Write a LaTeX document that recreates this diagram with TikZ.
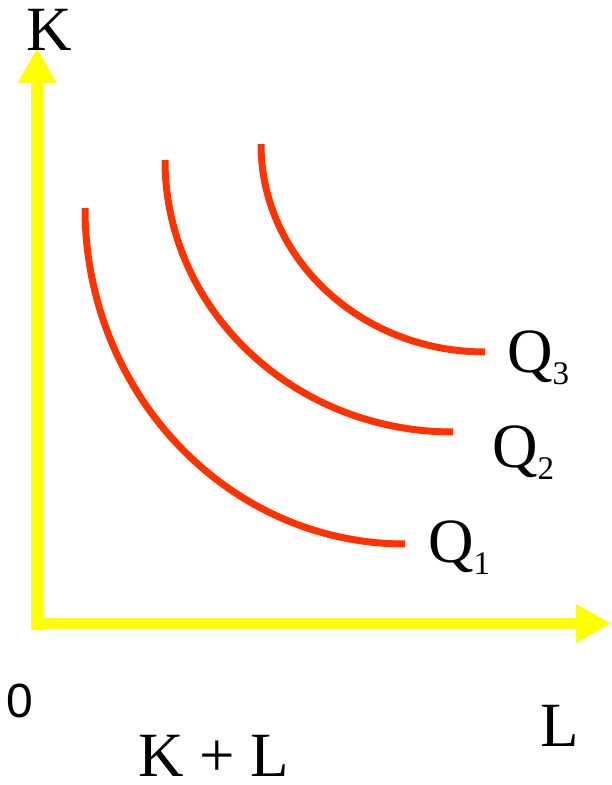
\documentclass[tikz,border=0pt]{standalone}
\usepackage{fontspec}
\setmainfont{Liberation Serif}
\newfontfamily\zerofont{Liberation Sans}
\usetikzlibrary{arrows.meta}
\definecolor{axisyellow}{RGB}{255,255,0}
\definecolor{curvered}{RGB}{255,51,0}
\newcommand{\subnum}[1]{\raisebox{-12pt}{\fontsize{33}{35}\selectfont #1}}
\begin{document}
\begin{tikzpicture}[x=1pt,y=1pt,
  axis/.style={draw=axisyellow,line width=11.5pt,-{Triangle[length=35pt,width=36pt]}},
  isoquant/.style={draw=curvered,line width=7pt},
  lbl/.style={inner sep=0pt,anchor=base west,font=\fontsize{63}{70}\selectfont}]
\useasboundingbox (0,0) rectangle (611,785);
\coordinate (o1) at (37,155);
\coordinate (ktip) at (37,737);
\coordinate (o2) at (32,161.5);
\coordinate (ltip) at (611,161.5);
\draw[axis] (o1) -- (ktip);
\draw[axis] (o2) -- (ltip);
\draw[isoquant] (85,577) arc[start angle=180,end angle=270,x radius=320pt,y radius=336pt];
\draw[isoquant] (165,625) arc[start angle=180,end angle=270,x radius=288pt,y radius=272pt];
\draw[isoquant] (261,641) arc[start angle=180,end angle=270,x radius=224pt,y radius=208pt];
\node[lbl] (k) at (26,734) {K};
\node[lbl] (q3) at (507,412) {Q\subnum{3}};
\node[lbl] (q2) at (492,317) {Q\subnum{2}};
\node[lbl] (q1) at (428,222) {Q\subnum{1}};
\node[lbl] (l) at (540,38) {L};
\node[lbl] (kl) at (138,9) {K + L};
\node[inner sep=0pt,anchor=base west,font=\zerofont\fontsize{48}{52}\selectfont] (zero) at (6,67) {0};
\end{tikzpicture}
\end{document}
